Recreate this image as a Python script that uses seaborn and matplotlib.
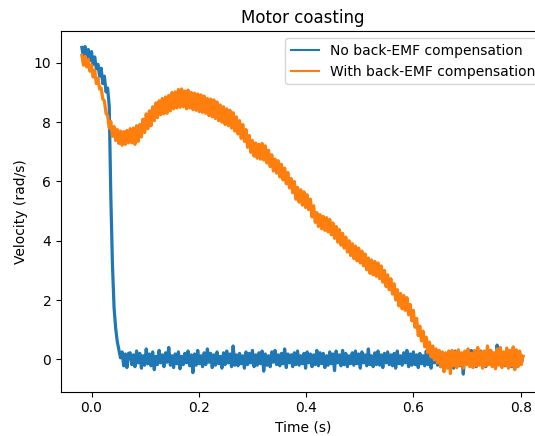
import matplotlib
matplotlib.use("Agg")
import matplotlib.pyplot as plt
import numpy as np
import pandas as pd
import seaborn as sns

# Sampling of the logged signal
T_START = -0.018
T_STEP = 0.003

LABEL_NO = "No back-EMF compensation"
LABEL_WITH = "With back-EMF compensation"

# Velocity without back-EMF compensation (rad/s)
vel_no_comp = [
    10.52, 10.18, 10.55, 10.15, 10.45, 10.08, 10.38, 9.95, 10.20, 9.80,
    9.95, 9.55, 9.82, 9.30, 9.55, 9.02, 9.15, 8.55, 5.50, 3.20,
    1.75, 1.05, 0.60, 0.32, 0.05, 0.25, -0.22, 0.18, -0.28, 0.20,
    0.22, -0.18, 0.15, -0.25, 0.28, -0.12, 0.20, -0.30, 0.12, -0.20,
    0.35, -0.15, 0.18, -0.22, 0.25, -0.35, 0.10, -0.18, 0.30, -0.12,
    0.15, -0.25, 0.22, -0.10, 0.40, -0.20, 0.12, -0.28, 0.18, -0.15,
    0.25, -0.32, 0.10, -0.18, 0.20, -0.12, 0.28, -0.22, 0.15, -0.45,
    0.18, -0.20, 0.30, -0.15, 0.12, -0.25, 0.22, -0.18, 0.35, -0.10,
    0.20, -0.28, 0.15, -0.20, 0.25, -0.15, 0.10, -0.30, 0.22, -0.18,
    0.28, -0.12, 0.18, -0.25, 0.45, -0.20, 0.15, -0.22, 0.20, -0.15,
    0.12, -0.30, 0.25, -0.18, 0.20, -0.12, 0.30, -0.25, 0.15, -0.20,
    0.22, -0.15, 0.28, -0.40, 0.18, -0.20, 0.12, -0.25, 0.25, -0.10,
    0.30, -0.18, 0.15, -0.22, 0.20, -0.15, 0.35, -0.28, 0.18, -0.12,
    0.15, -0.25, 0.22, -0.18, 0.28, -0.20, 0.12, -0.15, 0.20, -0.30,
    0.25, -0.12, 0.18, -0.25, 0.15, -0.18, 0.30, -0.22, 0.22, -0.15,
    0.20, -0.28, 0.12, -0.20, 0.25, -0.15, 0.18, -0.38, 0.28, -0.12,
    0.15, -0.22, 0.30, -0.18, 0.20, -0.25, 0.12, -0.15, 0.22, -0.20,
    0.28, -0.15, 0.18, -0.30, 0.25, -0.12, 0.15, -0.22, 0.35, -0.18,
    0.12, -0.25, 0.22, -0.18, 0.28, -0.20, 0.15, -0.28, 0.20, -0.12,
    0.25, -0.18, 0.15, -0.22, 0.20, -0.30, 0.28, -0.15, 0.12, -0.20,
    0.22, -0.12, 0.30, -0.25, 0.18, -0.20, 0.25, -0.18, 0.15, -0.28,
    0.20, -0.15, 0.12, -0.22, 0.28, -0.18, 0.22, -0.30, 0.18, -0.12,
    0.30, -0.20, 0.15, -0.25, 0.22, -0.15, 0.18, -0.28, 0.25, -0.18,
    0.15, -0.30, 0.28, -0.12, 0.20, -0.22, 0.12, -0.50, 0.25, -0.15,
    0.22, -0.18, 0.30, -0.20, 0.15, -0.25, 0.20, -0.15, 0.28, -0.22,
    0.18, -0.25, 0.22, -0.12, 0.30, -0.20, 0.15, -0.28, 0.48, -0.15,
    0.25, -0.20, 0.18, -0.22, 0.30, -0.15, 0.22, -0.25, 0.15, -0.18,
    0.28, -0.20, 0.20, -0.15, 0.10,
]

# Velocity with back-EMF compensation (rad/s)
vel_with_comp = [
    10.25, 9.92, 10.22, 9.86, 10.12, 9.72, 9.93, 9.52, 9.74, 9.30,
    9.48, 9.12, 9.15, 8.78, 8.72, 8.30, 8.22, 7.80, 8.02, 7.52,
    7.85, 7.38, 7.75, 7.28, 7.70, 7.22, 7.68, 7.25, 7.72, 7.30,
    7.78, 7.30, 7.80, 7.25, 7.88, 7.35, 7.92, 7.50, 8.10, 7.65,
    8.28, 7.78, 8.38, 7.88, 8.52, 8.05, 8.65, 8.15, 8.72, 8.25,
    8.80, 8.28, 8.85, 8.30, 8.90, 8.38, 9.00, 8.45, 9.02, 8.48,
    9.10, 8.50, 9.12, 8.52, 9.05, 8.45, 9.08, 8.48, 9.00, 8.42,
    8.98, 8.40, 8.95, 8.35, 8.92, 8.33, 8.88, 8.30, 8.80, 8.22,
    8.78, 8.18, 8.75, 8.12, 8.68, 8.05, 8.58, 8.00, 8.52, 7.92,
    8.45, 7.88, 8.40, 7.80, 8.32, 7.70, 8.18, 7.60, 8.05, 7.45,
    7.92, 7.35, 7.75, 7.15, 7.55, 6.98, 7.38, 6.85, 7.30, 6.78,
    7.25, 6.75, 7.28, 6.72, 7.20, 6.62, 7.05, 6.50, 6.90, 6.35,
    6.75, 6.28, 6.70, 6.15, 6.58, 6.05, 6.45, 5.92, 6.30, 5.78,
    6.10, 5.62, 6.00, 5.40, 5.80, 5.30, 5.72, 5.20, 5.65, 5.12,
    5.55, 5.05, 5.40, 4.80, 5.18, 4.62, 4.95, 4.48, 4.88, 4.40,
    4.82, 4.35, 4.78, 4.30, 4.72, 4.20, 4.60, 4.08, 4.48, 3.95,
    4.38, 3.85, 4.25, 3.75, 4.12, 3.62, 4.00, 3.50, 3.90, 3.40,
    3.82, 3.32, 3.75, 3.25, 3.65, 3.15, 3.55, 3.02, 3.42, 2.90,
    3.35, 2.85, 3.30, 2.80, 3.25, 2.72, 3.15, 2.60, 3.00, 2.45,
    2.85, 2.35, 2.72, 2.20, 2.55, 2.00, 2.35, 1.80, 2.22, 1.70,
    2.15, 1.65, 2.08, 1.50, 1.85, 1.30, 1.65, 1.08, 1.38, 0.80,
    1.12, 0.62, 0.95, 0.42, 0.75, 0.22, 0.58, 0.08, 0.45, -0.02,
    0.35, -0.12, 0.30, -0.25, 0.25, -0.42, 0.22, -0.30, 0.28, -0.48,
    0.30, -0.22, 0.25, -0.28, 0.32, -0.20, 0.22, -0.30, 0.28, -0.18,
    0.35, -0.25, 0.20, -0.28, 0.30, -0.22, 0.40, -0.20, 0.25, -0.30,
    0.28, -0.22, 0.45, -0.18, 0.30, -0.25, 0.22, -0.32, 0.35, -0.20,
    0.40, -0.28, 0.25, -0.20, 0.38, -0.30, 0.30, -0.22, 0.42, -0.35,
    0.32, -0.25, 0.28, -0.18, 0.10,
]

BLUE = "#1f77b4"
ORANGE = "#ff7f0e"
LINE_WIDTH = 2.3


def make_frame(values):
    t = T_START + T_STEP * np.arange(len(values))
    return pd.DataFrame({"time": t, "velocity": values})


fig = plt.figure(figsize=(5.35, 4.36), dpi=100)
# axes run past the right edge, as in the reference crop
ax = fig.add_axes([0.114, 0.1016, 0.9047, 0.827])

sns.lineplot(data=make_frame(vel_no_comp), x="time", y="velocity",
             color=BLUE, linewidth=LINE_WIDTH, label=LABEL_NO, ax=ax, estimator=None)
sns.lineplot(data=make_frame(vel_with_comp), x="time", y="velocity",
             color=ORANGE, linewidth=LINE_WIDTH, label=LABEL_WITH, ax=ax, estimator=None)

ax.set_xlim(-0.0569, 0.8453)
ax.set_ylim(-1.093, 11.07)
ax.spines["right"].set_visible(False)
ax.set_title("Motor coasting")
ax.set_xlabel("Time (s)")
ax.set_ylabel("Velocity (rad/s)")
leg = ax.legend(loc="upper left", bbox_to_anchor=(0.449, 1.0))
for line in leg.get_lines():
    line.set_linewidth(1.5)

fig.savefig("out.png", dpi=100)
